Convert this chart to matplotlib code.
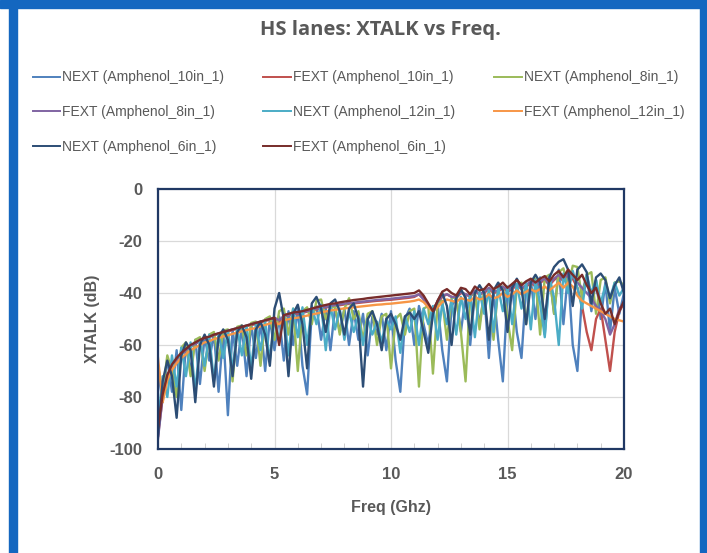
import matplotlib
matplotlib.use("Agg")
import matplotlib.pyplot as plt
from matplotlib.patches import Rectangle
from matplotlib.ticker import MultipleLocator

plt.rcParams["axes.unicode_minus"] = False

# frequency sweep points (GHz), shared by every trace
FREQ = [0.0, 0.2, 0.4, 0.6, 0.8, 1.0, 1.2, 1.4, 1.6, 1.8,
        2.0, 2.2, 2.4, 2.6, 2.8, 3.0, 3.2, 3.4, 3.6, 3.8,
        4.0, 4.2, 4.4, 4.6, 4.8, 5.0, 5.2, 5.4, 5.6, 5.8,
        6.0, 6.2, 6.4, 6.6, 6.8, 7.0, 7.2, 7.4, 7.6, 7.8,
        8.0, 8.2, 8.4, 8.6, 8.8, 9.0, 9.2, 9.4, 9.6, 9.8,
        10.0, 10.2, 10.4, 10.6, 10.8, 11.0, 11.2, 11.4, 11.6, 11.8,
        12.0, 12.2, 12.4, 12.6, 12.8, 13.0, 13.2, 13.4, 13.6, 13.8,
        14.0, 14.2, 14.4, 14.6, 14.8, 15.0, 15.2, 15.4, 15.6, 15.8,
        16.0, 16.2, 16.4, 16.6, 16.8, 17.0, 17.2, 17.4, 17.6, 17.8,
        18.0, 18.2, 18.4, 18.6, 18.8, 19.0, 19.2, 19.4, 19.6, 19.8,
        20.0]

# crosstalk in dB
NEXT_10IN = [-70, -82, -65, -78, -62, -85, -60, -70, -58, -75,
             -57, -66, -55.5, -78, -55, -87, -54, -68, -53, -72,
             -52, -65, -51.5, -70, -50, -62, -49, -66, -47, -60,
             -46, -68, -79, -47, -45, -58, -46, -62, -45.5, -55,
             -46, -60, -47, -58, -48, -64, -49, -56, -48, -62,
             -47, -66, -78, -50, -46, -60, -45, -52, -60, -46,
             -44, -62, -74, -45, -42, -55, -41, -60, -40, -52,
             -40, -65, -39, -58, -74, -40, -37, -55, -65, -38,
             -35, -50, -34, -56, -33, -48, -31, -52, -32, -60,
             -70, -40, -33, -47, -35, -50, -36, -55, -38, -48,
             -40]
FEXT_10IN = [-95, -80, -72, -68, -65.5, -63.5, -62, -60.5, -59.5, -58.5,
             -57.5, -57, -56.2, -55.8, -55.2, -54.8, -54.2, -53.8, -53.2, -52.8,
             -52.3, -52, -51.3, -50.8, -50.2, -49.8, -51, -49, -48.6, -48.2,
             -48, -47.6, -47.2, -46.8, -46.4, -46, -45.6, -45.2, -45, -44.7,
             -44.4, -44.2, -44, -43.8, -43.6, -43.4, -43.2, -43, -42.9, -42.7,
             -42.6, -42.4, -42.2, -42, -41.8, -41.5, -40.5, -42, -45, -46.5,
             -44, -41.5, -40.5, -41.5, -42, -40, -40.5, -41.5, -39.5, -40.5,
             -40, -38.5, -40, -39.5, -38, -39.5, -38.5, -37, -38.5, -37.5,
             -36, -37.5, -36, -35, -37, -35, -33.5, -35.5, -33, -34.5,
             -38, -45, -55, -62, -50, -46, -58, -70, -55, -47,
             -44]
NEXT_8IN = [-68, -78, -64, -70, -80, -61, -59, -72, -58, -57,
            -70, -56, -55, -66, -54.5, -54, -74, -53, -52.5, -64,
            -51.5, -51, -68, -50, -49, -58, -47, -46, -56, -46,
            -70, -47, -45.5, -52, -43, -42.5, -50, -46, -45, -56,
            -46, -42, -50, -47, -58, -48, -47, -60, -49, -48,
            -69, -50, -48, -56, -47, -46, -76, -46, -45, -71,
            -44, -43, -58, -42, -41.5, -55, -74, -41, -40, -54,
            -39, -38.5, -58, -38, -37.5, -50, -62, -37, -36, -52,
            -35, -34.5, -56, -34, -33, -48, -32, -30.5, -38, -29.5,
            -30, -42, -33, -32, -48, -35, -34, -44, -36, -35.5,
            -37]
FEXT_8IN = [-96, -80, -72.5, -68, -65.5, -63.5, -62, -60.5, -59.5, -58.5,
            -57.5, -56.8, -56.2, -55.5, -55, -54.5, -54, -53.5, -53, -52.5,
            -52, -51.5, -51, -50.5, -50, -49.5, -50.5, -48.8, -48.4, -48,
            -47.7, -47.3, -47, -46.5, -46, -45.7, -45.3, -45, -44.7, -44.4,
            -44.1, -43.9, -43.7, -43.5, -43.3, -43.1, -42.9, -42.7, -42.5, -42.4,
            -42.2, -42, -41.8, -41.6, -41.4, -41.2, -40.5, -42.5, -45.5, -46,
            -43.5, -41, -40.5, -41.5, -41.5, -39.5, -40.5, -41, -39, -40.5,
            -39.5, -38, -39.5, -39, -37.5, -39, -38, -36.5, -38, -37,
            -35.5, -37, -35.5, -34.5, -36.5, -34.5, -33, -35, -32.5, -34,
            -36, -38, -40, -42, -45, -47, -50, -56, -52, -46,
            -44]
NEXT_12IN = [-90, -72, -80, -64, -76, -61, -72, -59, -78, -58,
             -68, -56, -74, -55.5, -65, -54.5, -70, -53.5, -64, -52.5,
             -69, -52, -62, -51, -66, -50, -58, -48, -64, -46,
             -57, -45.5, -60, -45, -52, -44.5, -62, -45, -54, -46,
             -58, -47, -55, -49, -60, -50, -56, -51, -59, -50,
             -54, -49, -63, -49, -55, -47, -60, -46, -52, -45,
             -58, -44, -52, -42.5, -56, -41.5, -50, -40.5, -57, -39.5,
             -48, -39, -55, -38, -47, -37.5, -52, -36.5, -46, -36,
             -54, -35, -44, -57, -33.5, -42, -60, -32.5, -40, -31.5,
             -38, -46, -33, -40, -35, -44, -37, -42, -36, -41,
             -38]
FEXT_12IN = [-65, -82, -73.5, -69.5, -67, -65, -63.5, -62, -61, -60,
             -59, -58.5, -57.7, -57.3, -56.7, -56.3, -55.7, -55.3, -54.7, -54.3,
             -53.8, -53.5, -52.8, -52.3, -51.7, -51.3, -52, -50.5, -50.1, -49.7,
             -49.5, -49.1, -48.7, -48.3, -47.9, -47.5, -47.1, -46.7, -46.5, -46.2,
             -45.9, -45.7, -45.5, -45.3, -45.1, -44.9, -44.7, -44.5, -44.4, -44.2,
             -44.1, -43.9, -43.7, -43.5, -43.3, -43, -42.5, -43.5, -45.5, -47,
             -45.5, -43.5, -42.5, -43, -43.5, -42, -42.5, -43, -41.5, -42.5,
             -42, -40.5, -42, -41.5, -40, -41.5, -40.5, -39, -40.5, -39.5,
             -38.5, -39.5, -38.5, -37.5, -39, -37.5, -36, -38, -36, -37.5,
             -41, -43, -44, -45, -46, -47, -48, -49, -50, -50.5,
             -51]
NEXT_6IN = [-95, -74, -66, -72, -88, -64, -59, -62, -82, -60,
            -56, -60, -76, -57, -54, -58, -72, -55, -52.5, -57,
            -73, -54, -51, -56, -68, -46, -40, -50, -72, -48,
            -44.5, -52, -69, -44, -41.5, -46, -55, -44, -42.5, -47,
            -56, -46, -44, -50, -76, -50, -47, -52, -62, -50,
            -48, -52, -58, -49, -47.5, -50, -47, -55, -63, -48,
            -43, -40, -45, -60, -42, -38.5, -42, -56, -40, -37,
            -40, -58, -39, -36, -39, -55, -38, -34.5, -38, -52,
            -36, -33, -36, -50, -34, -30, -28, -27, -31, -45,
            -31, -29, -32, -44, -34, -32.5, -35, -42, -37, -34,
            -40]
FEXT_6IN = [-92, -79, -71.5, -67.5, -65, -63, -61.5, -60, -59, -58,
            -57.2, -56.8, -56, -55.5, -55, -54.5, -54, -53.5, -53, -52.5,
            -52, -51.5, -51, -50.5, -50, -49.5, -60, -48.5, -48, -47.5,
            -47.3, -47, -46.5, -46, -45.5, -45, -44.6, -44.2, -44, -43.6,
            -43.3, -43, -42.7, -42.5, -42.3, -42, -41.8, -41.6, -41.4, -41.2,
            -41, -40.8, -40.6, -40.4, -40.2, -40, -39, -41, -44, -47,
            -43, -39.5, -38.5, -40, -41, -38, -38.5, -40.5, -37.5, -39,
            -38.5, -36.5, -38.5, -37.5, -36, -38, -36.5, -35, -37, -35.5,
            -34.5, -36, -34.5, -33.5, -35.5, -33, -31.5, -34, -31, -33,
            -35, -33, -37, -40, -38, -44, -48, -46, -52, -47,
            -43]

SERIES = [
    ("NEXT (Amphenol_10in_1)", NEXT_10IN, "#4F81BD"),
    ("FEXT (Amphenol_10in_1)", FEXT_10IN, "#C0504D"),
    ("NEXT (Amphenol_8in_1)", NEXT_8IN, "#9BBB59"),
    ("FEXT (Amphenol_8in_1)", FEXT_8IN, "#8064A2"),
    ("NEXT (Amphenol_12in_1)", NEXT_12IN, "#4BACC6"),
    ("FEXT (Amphenol_12in_1)", FEXT_12IN, "#F79646"),
    ("NEXT (Amphenol_6in_1)", NEXT_6IN, "#2C4D75"),
    ("FEXT (Amphenol_6in_1)", FEXT_6IN, "#772C2A"),
]

TEXT_GRAY = "#595959"
FRAME_NAVY = "#203864"

fig = plt.figure(figsize=(7.07, 5.53), dpi=100)

# blue slide border around the chart
fig.patches.append(Rectangle((0, 1 - 8 / 553), 1, 8 / 553, transform=fig.transFigure,
                             color="#1467C0", zorder=0))
fig.patches.append(Rectangle((9 / 707, 0), 8 / 707, 1, transform=fig.transFigure,
                             color="#1467C0", zorder=0))
fig.patches.append(Rectangle((700 / 707, 0), 7 / 707, 1, transform=fig.transFigure,
                             color="#1467C0", zorder=0))

ax = fig.add_axes([158 / 707, 1 - 449 / 553, 466 / 707, 260 / 553])

handles = []
for label, values, color in SERIES:
    line, = ax.plot(FREQ, values, color=color, lw=1.7, label=label)
    handles.append(line)

ax.set_xlim(0, 20)
ax.set_ylim(-100, 0)
ax.xaxis.set_major_locator(MultipleLocator(5))
ax.xaxis.set_minor_locator(MultipleLocator(1))
ax.yaxis.set_major_locator(MultipleLocator(20))
ax.grid(True, which="major", color="#D9D9D9", lw=0.9)
ax.set_axisbelow(True)
for sp in ax.spines.values():
    sp.set_color(FRAME_NAVY)
    sp.set_linewidth(1.6)

tick_font = dict(family=["Liberation Sans", "DejaVu Sans"], weight="bold", size=12)
ax.tick_params(axis="both", which="major", length=0, colors=TEXT_GRAY)
ax.tick_params(axis="x", which="major", pad=13)
ax.tick_params(axis="y", which="major", pad=11)
ax.tick_params(axis="x", which="minor", direction="in", length=4, color="#C8C8C8")
for lbl in ax.get_xticklabels() + ax.get_yticklabels():
    lbl.set_fontproperties(tick_font)
    lbl.set_color(TEXT_GRAY)

label_font = dict(family=["Liberation Sans", "DejaVu Sans"], weight="bold", size=11.5)
ax.set_xlabel("Freq (Ghz)", fontdict=label_font, color=TEXT_GRAY, labelpad=13)
ax.set_ylabel("XTALK (dB)", fontdict=label_font, color=TEXT_GRAY, labelpad=7)

fig.text(380 / 707, 1 - 30 / 553, "HS lanes: XTALK vs Freq.", ha="center", va="center",
         family=["Open Sans", "DejaVu Sans"], weight="bold", size=14.5, color=TEXT_GRAY)

# Excel fills the legend row by row, matplotlib column by column
order = [0, 3, 6, 1, 4, 7, 2, 5]
leg = fig.legend([handles[i] for i in order], [SERIES[i][0] for i in order],
                 ncol=3, loc="upper left", bbox_to_anchor=(20 / 707, 1 - 58 / 553),
                 frameon=False, handlelength=2.0, handletextpad=0.15,
                 columnspacing=2.8, labelspacing=1.5,
                 prop=dict(family=["Liberation Sans", "DejaVu Sans"], size=10))
for t in leg.get_texts():
    t.set_color(TEXT_GRAY)
for h in leg.legend_handles:
    h.set_linewidth(1.4)

fig.savefig("out.png", dpi=100)
